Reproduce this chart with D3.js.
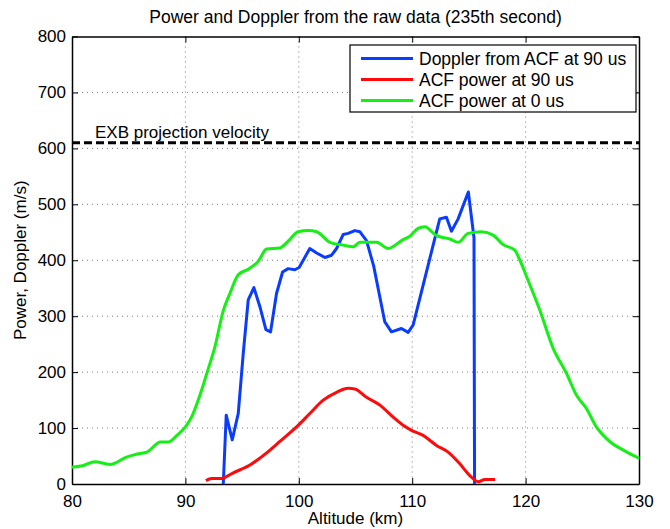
<!DOCTYPE html>
<html>
<head>
<meta charset="utf-8">
<script src="https://cdn.jsdelivr.net/npm/d3@7"></script>
<style>
  body { margin: 0; background: #fff; }
  svg text { font-family: "Liberation Sans", Arial, Helvetica, sans-serif; fill: #000; }
</style>
</head>
<body>
<svg width="670" height="529"></svg>
<script>
var width = 670,
    height = 529;

// Doppler from ACF at 90 us: [altitude km, m/s]
var doppler_90 = [
    [93.34, 0], [93.6, 123], [94.13, 79], [94.66, 126], [95.1, 233], [95.54, 329],
    [96.04, 351], [96.57, 317], [97.1, 276], [97.51, 272], [98.04, 341], [98.57, 379],
    [99.06, 385], [99.65, 383], [100.03, 387], [100.97, 421], [101.57, 413], [102.3, 405],
    [102.89, 409], [103.33, 421], [103.91, 446], [104.35, 448], [104.94, 453], [105.38, 451],
    [105.97, 435], [106.6, 390], [107.15, 334], [107.58, 290], [108.17, 272], [109.05, 278],
    [109.64, 271], [110.08, 284], [111.55, 403], [112.43, 474], [113.02, 477], [113.46, 452],
    [114.05, 474], [114.95, 522], [115.45, 440], [115.5, 0]
];

// ACF power at 90 us
var power_90 = [
    [91.81, 6], [92.31, 10], [93.19, 10], [94.22, 20], [95.69, 34], [97.3, 58],
    [98.33, 76], [99.8, 102], [100.97, 126], [102.15, 150], [103.33, 164], [104.35, 171],
    [104.94, 170], [105.97, 155], [107.15, 141], [108.47, 117], [109.2, 105], [109.94, 96],
    [110.96, 87], [112.14, 69], [113.17, 57], [114.2, 36], [115.08, 15], [115.82, 4],
    [116.4, 8], [117.3, 8]
];

// ACF power at 0 us
var power_0 = [
    [80, 30], [81, 33], [82, 40], [83.35, 35], [84.8, 48], [85.85, 54], [86.6, 57],
    [87.8, 75], [88.5, 75], [89.25, 87], [90, 102], [90.55, 120], [91.3, 160], [92, 205],
    [92.6, 245], [93.34, 310], [93.93, 341], [94.66, 374], [95.54, 384], [96.42, 398],
    [97.16, 420], [98.33, 422], [99.06, 434], [99.95, 451], [100.83, 453], [101.57, 451],
    [102.74, 432], [103.91, 427], [104.79, 424], [105.38, 432], [106.86, 432], [107.88, 421],
    [109.2, 437], [109.79, 443], [110.52, 457], [111.11, 460], [112.14, 444], [113.32, 438],
    [114.05, 432], [114.93, 448], [116.11, 451], [117.13, 445], [118.01, 428], [119.04, 418],
    [119.5, 400], [120.08, 371], [121.25, 311], [122.42, 243], [123.6, 198], [124.48, 159],
    [125.36, 135], [126.24, 102], [127.42, 76], [128.59, 61], [130, 46]
];

var exb_velocity = 610;
var x_ticks = [80, 90, 100, 110, 120, 130];
var y_ticks = [0, 100, 200, 300, 400, 500, 600, 700, 800];

var series = [
    { name: "Doppler from ACF at 90 us", data: doppler_90, color: "#0a3cff", curve: d3.curveLinear },
    { name: "ACF power at 90 us", data: power_90, color: "#ff0a0a", curve: d3.curveMonotoneX },
    { name: "ACF power at 0 us", data: power_0, color: "#14f014", curve: d3.curveMonotoneX }
];

var m_left = 72, m_right = 639, m_top = 36.5, m_bottom = 484;

var x = d3.scaleLinear().domain([80, 130]).range([m_left, m_right]);
var y = d3.scaleLinear().domain([0, 800]).range([m_bottom, m_top]);

var svg = d3.select("svg");

// Grid (dotted)
svg.append("g")
    .selectAll("line")
    .data(x_ticks.slice(1, -1))
    .join("line")
    .attr("x1", function (d) { return x(d); })
    .attr("x2", function (d) { return x(d); })
    .attr("y1", m_top)
    .attr("y2", m_bottom)
    .attr("stroke", "#777")
    .attr("stroke-width", 1)
    .attr("stroke-dasharray", "1,4");

svg.append("g")
    .selectAll("line")
    .data(y_ticks.slice(1, -1))
    .join("line")
    .attr("x1", m_left)
    .attr("x2", m_right)
    .attr("y1", function (d) { return y(d); })
    .attr("y2", function (d) { return y(d); })
    .attr("stroke", "#777")
    .attr("stroke-width", 1)
    .attr("stroke-dasharray", "1,4");

// Axes with inward ticks, box on all sides
var fontSize = 17;
svg.append("g")
    .attr("transform", "translate(0," + m_bottom + ")")
    .call(d3.axisBottom(x).tickValues(x_ticks).tickSizeInner(-6).tickSizeOuter(0).tickPadding(11));
svg.append("g")
    .attr("transform", "translate(" + m_left + ",0)")
    .call(d3.axisLeft(y).tickValues(y_ticks).tickSizeInner(-6).tickSizeOuter(0).tickPadding(6));
svg.append("g")
    .attr("transform", "translate(0," + m_top + ")")
    .call(d3.axisTop(x).tickValues(x_ticks).tickSizeInner(-6).tickSizeOuter(0).tickFormat(""));
svg.append("g")
    .attr("transform", "translate(" + m_right + ",0)")
    .call(d3.axisRight(y).tickValues(y_ticks).tickSizeInner(-6).tickSizeOuter(0).tickFormat(""));

svg.selectAll(".domain").attr("stroke", "#000").attr("stroke-width", 1.5);
svg.selectAll(".tick line").attr("stroke", "#000");
svg.selectAll(".tick text").attr("font-size", fontSize).attr("font-family", "Liberation Sans, Arial, sans-serif").attr("fill", "#000");

// EXB projection velocity
svg.append("line")
    .attr("x1", x(80))
    .attr("x2", x(130))
    .attr("y1", y(exb_velocity))
    .attr("y2", y(exb_velocity))
    .attr("stroke", "#000")
    .attr("stroke-width", 3)
    .attr("stroke-dasharray", "8,4");

svg.append("text")
    .attr("x", x(82.03))
    .attr("y", y(exb_velocity) - 5)
    .attr("font-size", 17)
    .text("EXB projection velocity");

// Data lines
svg.append("g")
    .selectAll("path")
    .data(series)
    .join("path")
    .attr("fill", "none")
    .attr("stroke", function (d) { return d.color; })
    .attr("stroke-width", 3)
    .attr("stroke-linejoin", "round")
    .attr("d", function (d) {
        return d3.line()
            .x(function (p) { return x(p[0]); })
            .y(function (p) { return y(p[1]); })
            .curve(d.curve)(d.data);
    });

// Legend
var legend = svg.append("g").attr("transform", "translate(350,45)");
legend.append("rect")
    .attr("width", 286)
    .attr("height", 67)
    .attr("fill", "#fff")
    .attr("stroke", "#000")
    .attr("stroke-width", 1.2);
var rows = legend.selectAll("g")
    .data(series)
    .join("g")
    .attr("transform", function (d, i) { return "translate(0," + (13.5 + i * 21) + ")"; });
rows.append("line")
    .attr("x1", 11)
    .attr("x2", 63)
    .attr("stroke", function (d) { return d.color; })
    .attr("stroke-width", 3);
rows.append("text")
    .attr("x", 69)
    .attr("dy", "0.36em")
    .attr("font-size", 17.5)
    .text(function (d) { return d.name; });

// Title and axis labels
svg.append("text")
    .attr("x", (m_left + m_right) / 2)
    .attr("y", 23)
    .attr("text-anchor", "middle")
    .attr("font-size", 17.5)
    .text("Power and Doppler from the raw data (235th second)");

svg.append("text")
    .attr("x", (m_left + m_right) / 2)
    .attr("y", 524)
    .attr("text-anchor", "middle")
    .attr("font-size", fontSize)
    .text("Altitude (km)");

svg.append("text")
    .attr("transform", "translate(26," + (m_top + m_bottom) / 2 + ") rotate(-90)")
    .attr("text-anchor", "middle")
    .attr("font-size", fontSize)
    .text("Power, Doppler (m/s)");
</script>
</body>
</html>
